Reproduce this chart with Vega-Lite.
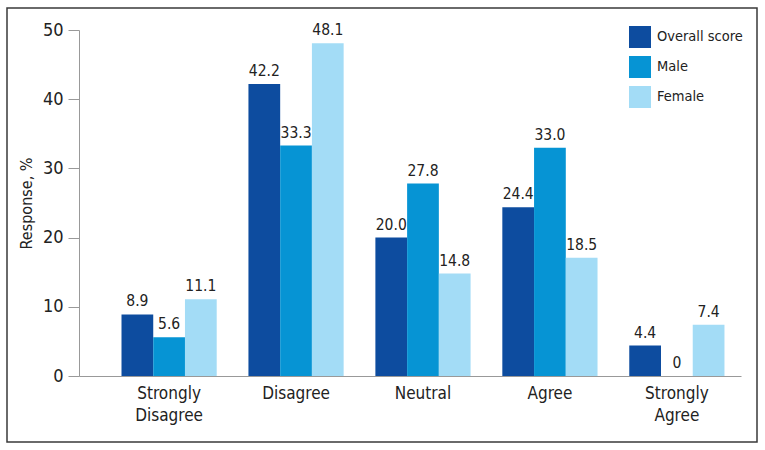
{
  "$schema": "https://vega.github.io/schema/vega-lite/v6.json",
  "width": 750,
  "height": 434,
  "autosize": {"type": "none"},
  "padding": {"left": 7, "top": 8, "right": 8, "bottom": 8},
  "background": "white",
  "config": {
    "view": {"stroke": "#3a3a3a", "strokeWidth": 1.5},
    "font": "Liberation Sans Narrow, DejaVu Sans Condensed, sans-serif"
  },
  "data": {
    "values": [
      {"response": "Strongly Disagree", "group": "Overall score", "value": 8.9, "label": "8.9"},
      {"response": "Strongly Disagree", "group": "Male", "value": 5.6, "label": "5.6"},
      {"response": "Strongly Disagree", "group": "Female", "value": 11.1, "label": "11.1"},
      {"response": "Disagree", "group": "Overall score", "value": 42.2, "label": "42.2"},
      {"response": "Disagree", "group": "Male", "value": 33.3, "label": "33.3"},
      {"response": "Disagree", "group": "Female", "value": 48.1, "label": "48.1"},
      {"response": "Neutral", "group": "Overall score", "value": 20.0, "label": "20.0"},
      {"response": "Neutral", "group": "Male", "value": 27.8, "label": "27.8"},
      {"response": "Neutral", "group": "Female", "value": 14.8, "label": "14.8"},
      {"response": "Agree", "group": "Overall score", "value": 24.4, "label": "24.4"},
      {"response": "Agree", "group": "Male", "value": 33.0, "label": "33.0"},
      {"response": "Agree", "group": "Female", "value": 17.1, "label": "18.5"},
      {"response": "Strongly Agree", "group": "Overall score", "value": 4.4, "label": "4.4"},
      {"response": "Strongly Agree", "group": "Male", "value": 0, "label": "0"},
      {"response": "Strongly Agree", "group": "Female", "value": 7.4, "label": "7.4"}
    ]
  },
  "encoding": {
    "x": {
      "field": "response",
      "type": "nominal",
      "sort": ["Strongly Disagree", "Disagree", "Neutral", "Agree", "Strongly Agree"],
      "scale": {"range": [72, 734], "paddingInner": 0.25, "paddingOuter": 0.2325, "align": 0.72},
      "axis": {
        "title": null,
        "orient": "bottom",
        "offset": -66,
        "labelAngle": 0,
        "labelExpr": "split(datum.value, ' ')",
        "labelFontSize": 17,
        "labelColor": "#222",
        "labelLineHeight": 22,
        "labelPadding": 9,
        "ticks": false,
        "domainColor": "#999",
        "domainWidth": 1,
        "grid": false
      }
    },
    "xOffset": {
      "field": "group",
      "type": "nominal",
      "sort": ["Overall score", "Male", "Female"],
      "scale": {"paddingInner": 0, "paddingOuter": 0}
    },
    "y": {
      "field": "value",
      "type": "quantitative",
      "scale": {"domain": [0, 50], "range": [368, 22], "nice": false},
      "axis": {
        "title": "Response, %",
        "titleFontSize": 16,
        "titleFontWeight": "normal",
        "titleColor": "#222",
        "titlePadding": 8,
        "orient": "left",
        "offset": -72,
        "values": [0, 10, 20, 30, 40, 50],
        "labelFontSize": 18,
        "labelColor": "#222",
        "labelPadding": 5,
        "tickSize": 11,
        "tickColor": "#999",
        "domainColor": "#999",
        "grid": false
      }
    }
  },
  "layer": [
    {
      "mark": {"type": "bar", "stroke": null},
      "encoding": {
        "color": {
          "field": "group",
          "type": "nominal",
          "sort": ["Overall score", "Male", "Female"],
          "scale": {"domain": ["Overall score", "Male", "Female"], "range": ["#0d4c9f", "#0694d4", "#a3dcf6"]},
          "legend": {
            "title": null,
            "orient": "none",
            "legendX": 622,
            "legendY": 18,
            "symbolType": "square",
            "symbolSize": 484,
            "symbolStrokeWidth": 0,
            "symbolOpacity": 1,
            "rowPadding": 8,
            "labelFontSize": 14.5,
            "labelColor": "#222",
            "labelOffset": 6,
            "padding": 0
          }
        }
      }
    },
    {
      "mark": {"type": "text", "baseline": "bottom", "dy": -5, "fontSize": 15.5, "color": "#222"},
      "encoding": {
        "text": {"field": "label"}
      }
    }
  ]
}
